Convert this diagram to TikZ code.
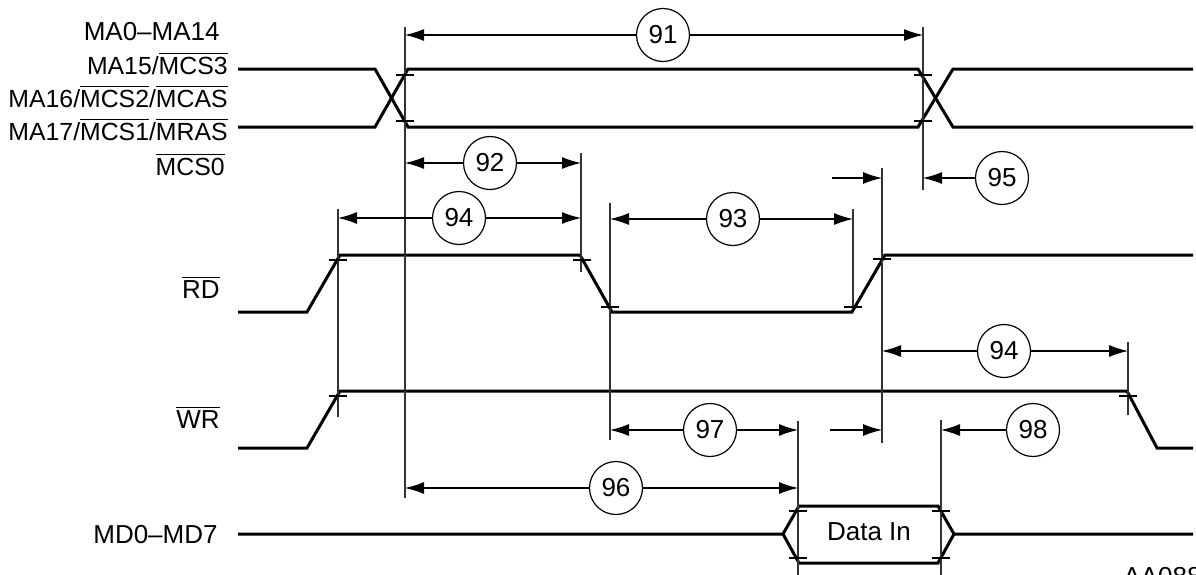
\documentclass[tikz,border=0pt]{standalone}
\usepackage{fontspec}
\setmainfont{Liberation Sans}
\usetikzlibrary{arrows.meta}
\newcommand{\ovl}[1]{$\overline{\mbox{#1}}$}
\tikzset{
	sig/.style={line width=1.5pt, line join=miter},
	refl/.style={line width=0.6pt, draw=black!80},
	tk/.style={line width=0.6pt},
	dim/.style={line width=0.6pt, -{Latex[length=9.5pt,width=6pt]}},
	num/.style={circle, draw, line width=0.6pt, minimum size=26.5pt, inner sep=0pt},
	lbl/.style={anchor=base east, inner sep=0pt},
	narrow/.style={font=\fontsize{12.4}{15}\selectfont},
}

\begin{document}
\begin{tikzpicture}[x=0.5pt, y=-0.5pt, font=\fontsize{13}{15}\selectfont]
				\useasboundingbox (0,0) rectangle (1196,574);
				% signal names
				\node[lbl] (la) at (220,40) {MA0--MA14};
				\node[lbl, narrow] (lb) at (228,74) {MA15/\ovl{MCS3}};
				\node[lbl, narrow] (lc) at (228,107) {MA16/\ovl{MCS2}/\ovl{MCAS}};
				\node[lbl, narrow] (ld) at (228,140) {MA17/\ovl{MCS1}/\ovl{MRAS}};
				\node[lbl, narrow] (le) at (225,175) {\ovl{MCS0}};
				\node[lbl] (lrd) at (220,298) {\ovl{RD}};
				\node[lbl] (lwr) at (220,428) {\ovl{WR}};
				\node[lbl] (lmd) at (218,543) {MD0--MD7};

				% waveforms
				\draw[sig] (238,69) -- (375,69) -- (408,127) -- (918,127) -- (953,69) -- (1193,69);
				\draw[sig] (238,127) -- (375,127) -- (408,69) -- (918,69) -- (953,127) -- (1193,127);
				\draw[sig] (238,312) -- (307,312) -- (340,255) -- (580,255) -- (612,312) -- (852,312) -- (885,255) -- (1193,255);
				\draw[sig] (238,448) -- (307,448) -- (340,391) -- (1127,391) -- (1157,448) -- (1193,448);
				\draw[sig] (238,534) -- (783,534) -- (799,506) -- (938,506) -- (954,534) -- (1193,534);
				\draw[sig] (783,534) -- (799,563) -- (938,563) -- (954,534);
				\node[inner sep=0pt] (din) at (869,532) {Data In};

				% reference edges
				\coordinate (xa) at (405,0);
				\coordinate (xb) at (581,0);
				\coordinate (xc) at (338,0);
				\coordinate (xd) at (610,0);
				\coordinate (xe) at (853,0);
				\coordinate (xf) at (882,0);
				\coordinate (xg) at (923,0);
				\coordinate (xh) at (1128,0);
				\coordinate (xi) at (798,0);
				\coordinate (xj) at (941,0);
				\foreach \c/\a/\b in {xa/27/498, xg/27/190, xb/153/272, xc/209/417, xd/203/440,
						xe/209/307, xf/168/443, xh/342/415, xi/421/580, xj/420/580} {
					\draw[refl] (\c) ++(0,\a) -- ++(0,\b-\a);
				}
				\foreach \x/\y in {405/75, 405/121, 923/75, 923/121, 338/260, 582/260, 610/307,
						853/307, 882/259, 338/396, 1128/396, 798/511, 798/558, 941/511, 941/558} {
					\draw[tk] (\x-9,\y) -- ++(18,0);
				}

				% timing parameters
				\node[num] (t91) at (663,35) {91};
				\draw[dim] (t91) -- (t91 -| xa);
				\draw[dim] (t91) -- (t91 -| xg);
				\node[num] (t92) at (490,163) {92};
				\draw[dim] (t92) -- (t92 -| xa);
				\draw[dim] (t92) -- (t92 -| xb);
				\node[num] (t94a) at (459,218) {94};
				\draw[dim] (t94a) -- (t94a -| xc);
				\draw[dim] (t94a) -- (t94a -| xb);
				\node[num] (t93) at (733,219) {93};
				\draw[dim] (t93) -- (t93 -| xd);
				\draw[dim] (t93) -- (t93 -| xe);
				\node[num] (t95) at (1002,178) {95};
				\draw[dim] (t95) -- (t95 -| xg);
				\coordinate (p95) at (832,178);
				\draw[dim] (p95) -- (p95 -| xf);
				\node[num] (t94b) at (1004,351) {94};
				\draw[dim] (t94b) -- (t94b -| xf);
				\draw[dim] (t94b) -- (t94b -| xh);
				\node[num] (t97) at (710,430) {97};
				\draw[dim] (t97) -- (t97 -| xd);
				\draw[dim] (t97) -- (t97 -| xi);
				\coordinate (p97) at (830,430);
				\draw[dim] (p97) -- (p97 -| xf);
				\node[num] (t98) at (1033,430) {98};
				\draw[dim] (t98) -- (t98 -| xj);
				\node[num] (t96) at (616,488) {96};
				\draw[dim] (t96) -- (t96 -| xa);
				\draw[dim] (t96) -- (t96 -| xi);

				\node[anchor=north west, inner sep=0pt] (fig) at (1123,567) {AA0887};
			\end{tikzpicture}
\end{document}
